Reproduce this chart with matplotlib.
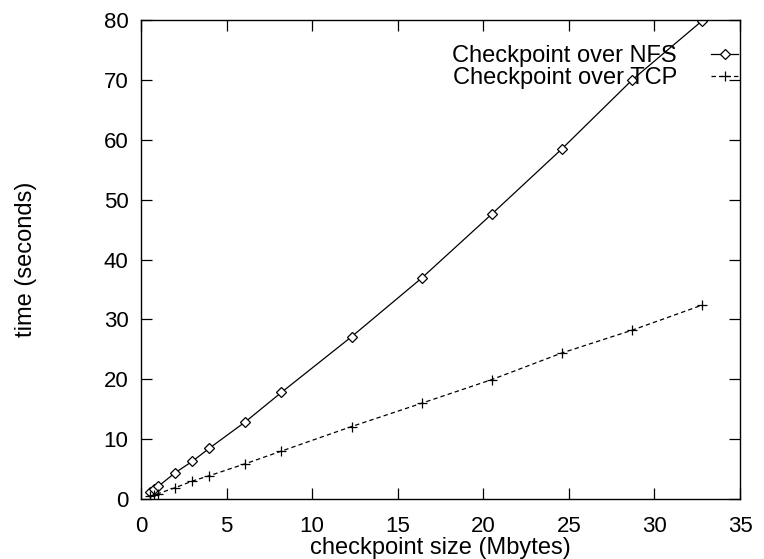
import matplotlib
matplotlib.use("Agg")
import matplotlib.pyplot as plt

plt.rcParams['font.family'] = ['Liberation Sans', 'DejaVu Sans']

# checkpoint sizes (Mbytes)
sizes = [0.5, 0.75, 1, 2, 3, 4, 6.1, 8.2, 12.3, 16.4, 20.5, 24.6, 28.7, 32.8]
# time in seconds
nfs_time = [1.2, 1.7, 2.1, 4.4, 6.3, 8.5, 12.9, 17.8, 27.1, 36.9, 47.6, 58.5, 70.0, 79.9]
tcp_time = [0.45, 0.6, 0.9, 1.9, 3.0, 3.9, 5.9, 8.0, 12.1, 16.0, 19.95, 24.4, 28.2, 32.4]

fig = plt.figure(figsize=(7.64, 5.59), dpi=100)
ax = fig.add_axes([0.1846, 0.1073, 0.784, 0.8569])

ax.plot(sizes, nfs_time, color='black', lw=0.9, marker='D', markersize=5,
        markerfacecolor='white', markeredgecolor='black', markeredgewidth=0.9,
        label='Checkpoint over NFS')
ax.plot(sizes, tcp_time, color='black', lw=0.9, dashes=(3.5, 2.5), marker='+',
        markersize=7, markeredgewidth=0.9, label='Checkpoint over TCP')

ax.set_xlim(0, 35)
ax.set_ylim(0, 80)
ax.set_xticks(range(0, 36, 5))
ax.set_yticks(range(0, 81, 10))
ax.tick_params(direction='in', length=8, width=0.9, top=True, right=True,
               labelsize=16)
ax.tick_params(axis='x', pad=12)
ax.tick_params(axis='y', pad=9)
for s in ax.spines.values():
    s.set_linewidth(1.0)

ax.set_xlabel('checkpoint size (Mbytes)', fontsize=17, labelpad=0)
ax.set_ylabel('time (seconds)', fontsize=17)
ax.yaxis.set_label_coords(-0.174, 0.5)

ax.legend(loc='upper right', bbox_to_anchor=(0.997, 0.947), frameon=False,
          markerfirst=False, fontsize=17, handlelength=1.15, handletextpad=1.45,
          labelspacing=0.0, borderpad=0, borderaxespad=0)

fig.savefig('out.png', dpi=100)
